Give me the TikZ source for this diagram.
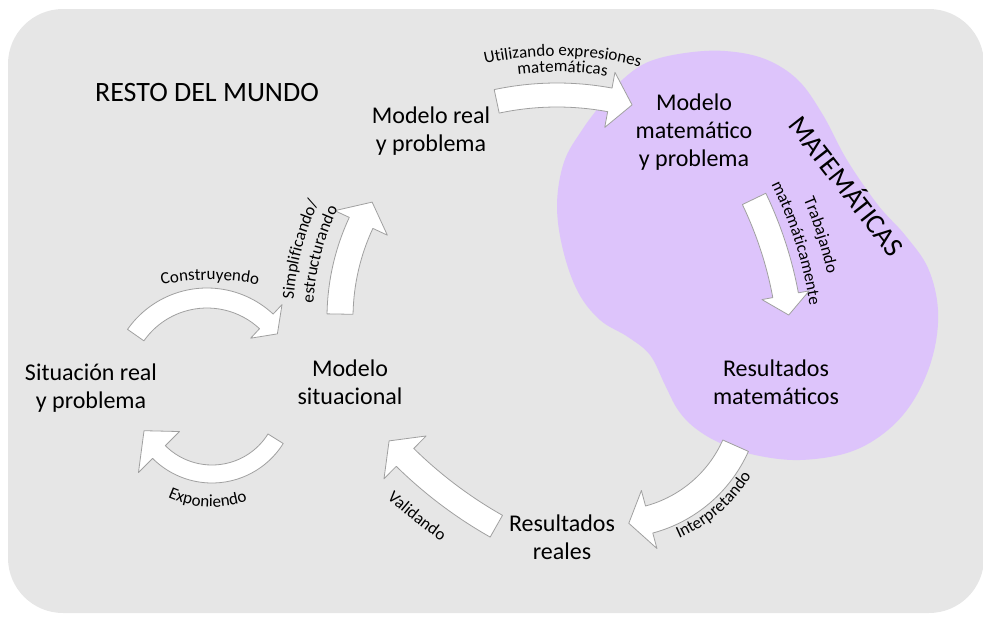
\documentclass[tikz,border=0pt]{standalone}
\usepackage{fontspec}
\setmainfont{Carlito}
\usetikzlibrary{calc,decorations.text}

\definecolor{worldgray}{RGB}{230,230,230}
\definecolor{mathlilac}{RGB}{221,196,251}
\definecolor{arrowline}{RGB}{160,160,160}

\newcommand{\stagefont}{\fontsize{24}{28}\selectfont}
\newcommand{\lblfont}{\fontsize{17}{20}\selectfont}

\tikzset{
  stage/.style={font=\stagefont, align=center, inner sep=0pt},
  arrowbody/.style={fill=white, draw=arrowline, line width=0.8pt, line join=round},
}

% block arrow on an arc: centre, radius, start, head base, tip, half width, head half width
\newcommand{\bentarrow}[7]{%
  \draw[arrowbody] ($(#1)+(#3:#2+#6)$) arc[start angle=#3, end angle=#4, radius=#2+#6]
    -- ($(#1)+(#4:#2+#7)$) -- ($(#1)+(#5:#2)$) -- ($(#1)+(#4:#2-#7)$)
    -- ($(#1)+(#4:#2-#6)$) arc[start angle=#4, end angle=#3, radius=#2-#6] -- cycle;}

% label along an arc: centre, radius, from, to, text
\newcommand{\arclabel}[5]{%
  \path[decorate, decoration={text along path, text align=center, text={|\lblfont|#5}}]
    ($(#1)+(#3:#2)$) arc[start angle=#3, end angle=#4, radius=#2];}

\begin{document}
\begin{tikzpicture}[x=1pt, y=-1pt]
\useasboundingbox (0,0) rectangle (983,619);
\fill[worldgray, rounded corners=55pt] (8,9) rectangle (984,613);

% the mathematics region
\fill[mathlilac] plot[smooth cycle, tension=0.6] coordinates {
  (622,80) (648,62) (685,53) (725,51) (765,59) (798,80) (823,115) (847,160)
  (878,205) (905,235) (928,268) (938,310) (933,355) (915,398) (888,430)
  (850,452) (800,460) (755,455) (720,443) (695,428) (678,410) (665,385)
  (650,355) (628,337) (600,320) (578,292) (563,250) (557,205) (564,162)
  (582,130) (603,102)};

% centres of the arcs
\coordinate (usec) at (557,385);
\coordinate (simpc) at (565,318);
\coordinate (consc) at (207,385);
\coordinate (consl) at (210,530);
\coordinate (expoc) at (212,399);
\coordinate (validc) at (712,145);
\coordinate (interc) at (615,392);
\coordinate (workc) at (409,365);

% arrows
\bentarrow{usec}{290}{-102}{-79.5}{-75}{12}{28}
\bentarrow{simpc}{225}{181}{205}{211}{13}{29}
\bentarrow{consc}{87}{215}{313}{324}{10}{23}
\bentarrow{expoc}{75}{32}{135}{155}{9}{29}
\bentarrow{validc}{438}{119.5}{134.5}{137.5}{12.5}{30}
\bentarrow{interc}{132}{24}{75}{84}{14}{30}
\bentarrow{workc}{383}{-25.7}{-10.5}{-7.5}{13}{24}

% arrow labels
\arclabel{usec}{329}{-112}{-66}{Utilizando expresiones}
\arclabel{usec}{313}{-110}{-68}{matemáticas}
\arclabel{simpc}{272}{172}{217}{Simplificando/}
\arclabel{simpc}{252}{172}{217}{estructurando}
\arclabel{consl}{250}{-104}{-76}{Construyendo}
\arclabel{expoc}{108}{128}{57}{Exponiendo}
\arclabel{validc}{480}{140}{117}{Validando}
\arclabel{interc}{160}{75}{23}{Interpretando}
\arclabel{workc}{428}{-42}{7}{Trabajando}
\arclabel{workc}{405}{-42}{7}{matemáticamente}

% stages
\node[stage, font=\fontsize{28}{32}\selectfont] (world) at (207,93) {RESTO DEL MUNDO};
\node[stage, font=\fontsize{28}{32}\selectfont, rotate=-52] (mathworld) at (848,185) {MATEMÁTICAS};
\node[stage] (realmodel) at (431,131) {Modelo real\\y problema};
\node[stage] (mathmodel) at (694,132) {Modelo\\matemático\\y problema};
\node[stage] (mathres) at (776,382) {Resultados\\matemáticos};
\node[stage] (realres) at (562,537) {Resultados\\reales};
\node[stage] (sitmodel) at (350,382) {Modelo\\situacional};
\node[stage] (realsit) at (91,388) {Situación real\\y problema};
\end{tikzpicture}
\end{document}
